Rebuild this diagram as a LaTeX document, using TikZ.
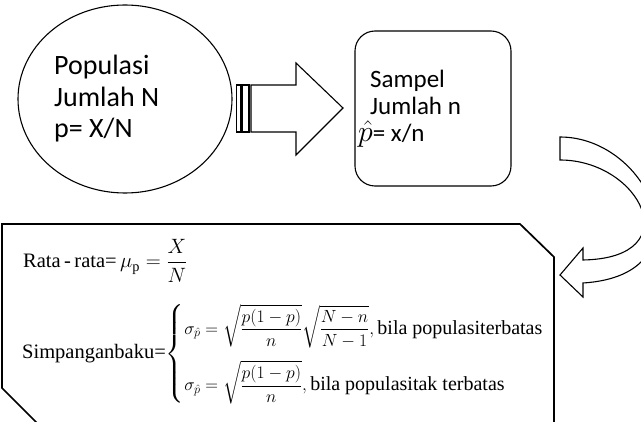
\documentclass[tikz,border=0pt]{standalone}
\usepackage{amsmath}
\usepackage{fontspec}
\setmainfont{Liberation Serif}
\newfontfamily\calibri{Carlito}
\usetikzlibrary{shapes.geometric,calc}
\tikzstyle{blob}=[draw=black,line width=1.1pt]
\tikzstyle{frame}=[draw=black,line width=1.7pt]
\tikzstyle{bigtext}=[font=\calibri\fontsize{28}{31.5}\selectfont,align=left,inner sep=0pt]
\tikzstyle{smalltext}=[font=\calibri\fontsize{25}{27}\selectfont,align=left,inner sep=0pt]
\tikzstyle{formula}=[font=\fontsize{20.5}{24}\selectfont,inner sep=0pt]
\newcommand{\sdev}{\sigma_{\hat{p}}}
% math of one case, a bit narrower than the text
\newcommand{\eqpart}[1]{\scalebox{0.85}{$\displaystyle #1$}}
% remark after each case
\newcommand{\bila}[1]{\text{\fontsize{20}{20}\selectfont\,#1}}

\begin{document}
\begin{tikzpicture}[x=1pt,y=-1pt]
\useasboundingbox (0,0) rectangle (641,422);
\clip (0,0) rectangle (641,422);

% population
\node[blob,ellipse,minimum width=214pt,minimum height=188pt] (pop) at (125,99) {};
\node[bigtext,anchor=base west] (poptext) at (54,138) {Populasi\\Jumlah N\\p= X/N};

% striped block arrow, population -> sample
\draw[blob] (251,85) -- (296,85) -- (296,63) -- (343,108) -- (296,155) -- (296,132) -- (251,132) -- cycle;
\draw[blob] (236.5,85) rectangle (241,132);
\draw[blob] (242.5,85) rectangle (249,132);

% sample
\node[blob,rectangle,rounded corners=20pt,minimum width=156pt,minimum height=155pt] (samp) at (433,108.5) {};
\node[smalltext,anchor=base west] (samptext) at (370,142) {Sampel\\Jumlah n\\\hspace*{-12pt}\scalebox{1.2}{$\hat{p}$}= x/n};

% curved block arrow down to the formulas
\draw[blob] (560,137) .. controls (650,137) and (710,275) .. (583,283) -- (583,297) -- (560,275)
  -- (583,248) -- (583,260) .. controls (690,258) and (640,160) .. (560,160) -- cycle;

% formula frame (runs off the bottom)
\draw[frame] (70,456) -- (2,388) -- (2,224) -- (520,224) -- (554,257) -- (554,440);

\node[formula,anchor=base west] (rata) at (23,268) {Rata\,-\,rata=$\,\mu_{\mathrm{p}}=\dfrac{X}{N}$};
\node[formula,anchor=base west] (simp) at (22,359) {Simpanganbaku=$\begin{cases}
  \eqpart{\sdev=\sqrt{\frac{p(1-p)}{n}}\sqrt{\frac{N-n}{N-1}},}\bila{bila populasiterbatas}\\[18pt]
  \eqpart{\sdev=\sqrt{\frac{p(1-p)}{n}},}\bila{bila populasitak terbatas}
\end{cases}$};
\end{tikzpicture}
\end{document}
